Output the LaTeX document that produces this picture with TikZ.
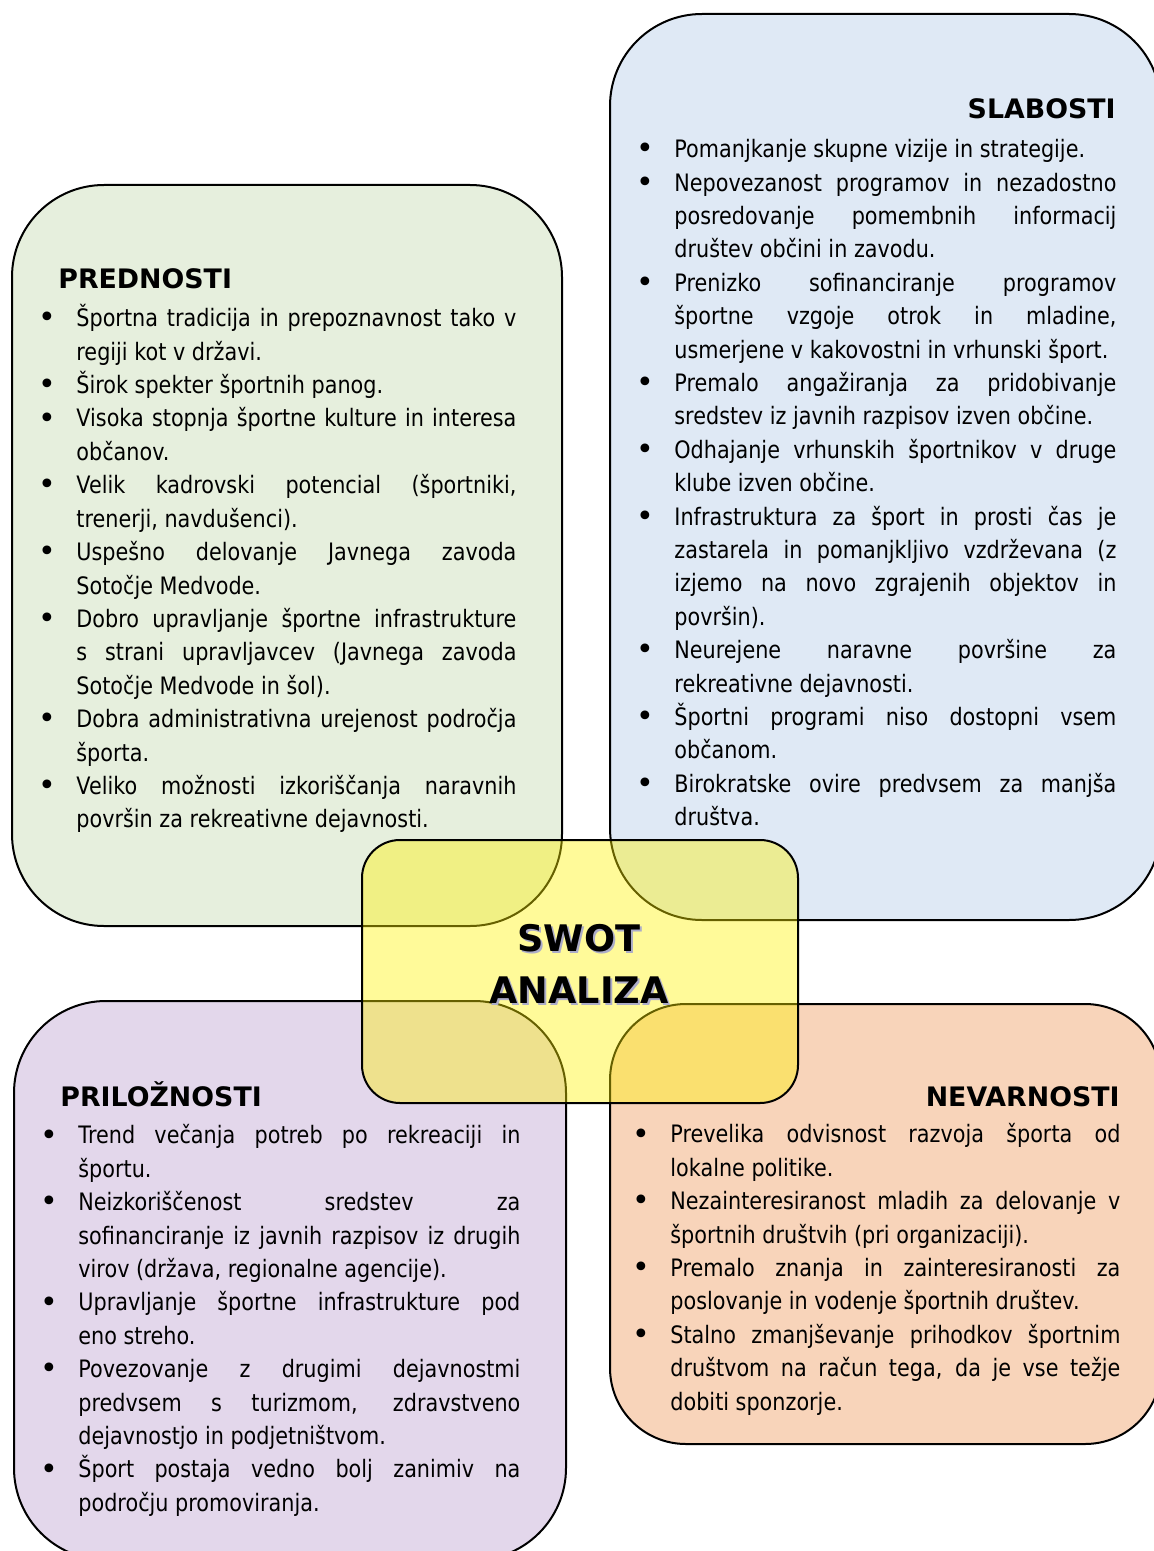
\documentclass[tikz,border=0pt]{standalone}
\usepackage{fontspec}
\setmainfont{DejaVu Sans}[FakeStretch=0.865]
\newfontfamily\naslovfont{DejaVu Sans}
\usetikzlibrary{positioning}

\definecolor{zelena}{RGB}{230,239,221}
\definecolor{modra}{RGB}{223,233,245}
\definecolor{vijolicna}{RGB}{227,215,235}
\definecolor{oranzna}{RGB}{248,212,186}
\definecolor{senca}{RGB}{172,172,200}

\tolerance=10000
\hyphenpenalty=10000
\exhyphenpenalty=10000
\newcommand{\pika}{{\naslovfont\fontsize{15pt}{16pt}\selectfont\raisebox{-0.6pt}{\textbullet}}}
\newcommand{\alineja}[1]{\par\noindent\hangindent=19pt\hangafter=1\makebox[19pt][l]{\rule{0pt}{12pt}\pika}#1\par}

\begin{document}
\begin{tikzpicture}[x=0.5pt,y=-0.5pt]
\tikzset{okvir/.style = {draw=black, line width=1pt, rounded corners=46pt}}
\tikzset{naslov/.style = {inner sep=0pt, font=\naslovfont\bfseries\fontsize{13.4pt}{16pt}\selectfont}}
\tikzset{besedilo/.style = {inner sep=0pt, anchor=north west, align=justify, font=\fontsize{12pt}{16.7pt}\selectfont}}
\tikzset{swot/.style = {inner sep=0pt, anchor=base, font=\naslovfont\bfseries\fontsize{18.3pt}{20pt}\selectfont}}
\useasboundingbox (0,0) rectangle (1154,1551);
\clip (0,0) rectangle (1154,1551);
% stirje okvirji
\draw[okvir, fill=zelena] (12,185) rectangle (562,926);
\draw[okvir, fill=modra] (610,14) rectangle (1161,920);
\draw[okvir, fill=vijolicna] (14,1001) rectangle (566,1560);
\draw[okvir, rounded corners=38pt, fill=oranzna] (610,1004) rectangle (1161,1444);
% naslovi
\node[naslov, anchor=base west] (prednosti) at (58,289) {PREDNOSTI};
\node[naslov, anchor=base east] (slabosti) at (1116,119) {SLABOSTI};
\node[naslov, anchor=base west] (priloznosti) at (60,1106) {PRILOŽNOSTI};
\node[naslov, anchor=base east] (nevarnosti) at (1120,1106) {NEVARNOSTI};
% alineje
\node[besedilo, text width=239pt] (prednostiTxt) at (38,293) {%
\alineja{Športna tradicija in prepoznavnost tako v\linebreak regiji kot v državi.}
\alineja{Širok spekter športnih panog.}
\alineja{Visoka stopnja športne kulture in interesa\linebreak občanov.}
\alineja{Velik kadrovski potencial (športniki,\linebreak trenerji, navdušenci).}
\alineja{Uspešno delovanje Javnega zavoda\linebreak Sotočje Medvode.}
\alineja{Dobro upravljanje športne infrastrukture\linebreak s strani upravljavcev (Javnega zavoda\linebreak Sotočje Medvode in šol).}
\alineja{Dobra administrativna urejenost področja\linebreak športa.}
\alineja{Veliko možnosti izkoriščanja naravnih\linebreak površin za rekreativne dejavnosti.}};
\node[besedilo, text width=240pt] (slabostiTxt) at (636,124) {%
\alineja{Pomanjkanje skupne vizije in strategije.}
\alineja{Nepovezanost programov in nezadostno\linebreak posredovanje pomembnih informacij\linebreak društev občini in zavodu.}
\alineja{Prenizko sofinanciranje programov\linebreak športne vzgoje otrok in mladine,\linebreak usmerjene v kakovostni in vrhunski šport.}
\alineja{Premalo angažiranja za pridobivanje\linebreak sredstev iz javnih razpisov izven občine.}
\alineja{Odhajanje vrhunskih športnikov v druge\linebreak klube izven občine.}
\alineja{Infrastruktura za šport in prosti čas je\linebreak zastarela in pomanjkljivo vzdrževana (z\linebreak izjemo na novo zgrajenih objektov in\linebreak površin).}
\alineja{Neurejene naravne površine za\linebreak rekreativne dejavnosti.}
\alineja{Športni programi niso dostopni vsem\linebreak občanom.}
\alineja{Birokratske ovire predvsem za manjša\linebreak društva.}};
\node[besedilo, text width=240pt] (priloznostiTxt) at (40,1110) {%
\alineja{Trend večanja potreb po rekreaciji in\linebreak športu.}
\alineja{Neizkoriščenost sredstev za\linebreak sofinanciranje iz javnih razpisov iz drugih\linebreak virov (država, regionalne agencije).}
\alineja{Upravljanje športne infrastrukture pod\linebreak eno streho.}
\alineja{Povezovanje z drugimi dejavnostmi\linebreak predvsem s turizmom, zdravstveno\linebreak dejavnostjo in podjetništvom.}
\alineja{Šport postaja vedno bolj zanimiv na\linebreak področju promoviranja.}};
\node[besedilo, text width=244pt] (nevarnostiTxt) at (632,1109) {%
\alineja{Prevelika odvisnost razvoja športa od\linebreak lokalne politike.}
\alineja{Nezainteresiranost mladih za delovanje v\linebreak športnih društvih (pri organizaciji).}
\alineja{Premalo znanja in zainteresiranosti za\linebreak poslovanje in vodenje športnih društev.}
\alineja{Stalno zmanjševanje prihodkov športnim\linebreak društvom na račun tega, da je vse težje\linebreak dobiti sponzorje.}};
% sredina
\draw[okvir, rounded corners=19pt, fill=yellow, fill opacity=0.4] (362,840) rectangle (798,1103);
\node[swot, text=senca] (swotSenca) at (581,953) {SWOT};
\node[swot] (swotNapis) at (579,951) {SWOT};
\node[swot, text=senca] (analizaSenca) at (581,1005) {ANALIZA};
\node[swot] (analizaNapis) at (579,1003) {ANALIZA};
\end{tikzpicture}
\end{document}
